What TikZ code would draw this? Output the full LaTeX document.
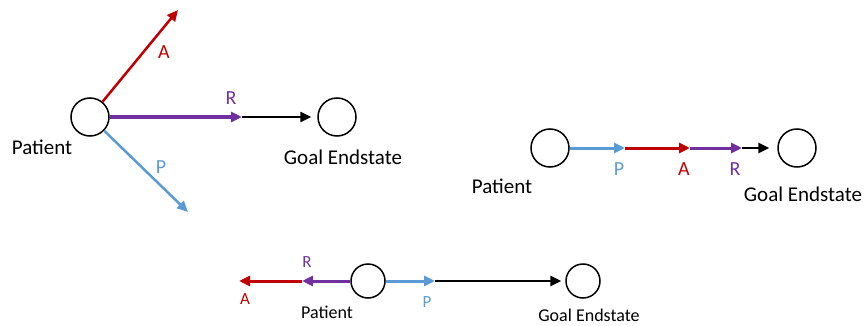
\documentclass[tikz,border=0pt]{standalone}
\usepackage{fontspec}
\setmainfont{Carlito}
\usetikzlibrary{arrows.meta}
\definecolor{argred}{RGB}{192,0,0}
\definecolor{argblue}{RGB}{91,155,213}
\definecolor{argpurple}{RGB}{112,48,160}

\begin{document}
\begin{tikzpicture}[x=1pt,y=-1pt]
                        \tikzstyle{state}=[draw,circle,line width=1.5pt,minimum size=38pt,inner sep=0pt]
                        \tikzstyle{smallstate}=[state,minimum size=34pt]
                        \tikzstyle{arg}=[line width=3pt,-{Triangle[length=11pt,width=10pt]}]
                        \tikzstyle{goalarrow}=[arg,line width=2.4pt,black]
                        \tikzstyle{bigname}=[inner sep=0pt,font=\fontsize{21}{25}\selectfont]
                        \tikzstyle{smallname}=[inner sep=0pt,font=\fontsize{18}{22}\selectfont]
                        \tikzstyle{biglbl}=[inner sep=0pt,font=\fontsize{20}{24}\selectfont]
                        \tikzstyle{smalllbl}=[inner sep=0pt,font=\fontsize{17}{20}\selectfont]
                        \useasboundingbox (0,0) rectangle (866,326);
                        % spread: three arguments leave the patient apart
                        \node[state] (pat1) at (90,117) {};
                        \node[state] (goal1) at (337,117) {};
                        \coordinate (a1) at (178,10);
                        \coordinate (r1) at (242,117);
                        \coordinate (p1) at (188,212);
                        \draw[arg,argred,line width=2.5pt] (pat1) -- (a1);
                        \draw[arg,argblue,line width=2.5pt] (pat1) -- (p1);
                        \draw[arg,argpurple,line width=3.5pt] (pat1) -- (r1);
                        \draw[goalarrow,shorten >=6pt] (r1) -- (goal1);
                        \node[biglbl,text=argred] (la1) at (164,52) {A};
                        \node[biglbl,text=argpurple] (lr1) at (231,98) {R};
                        \node[biglbl,text=argblue] (lp1) at (161,167) {P};
                        \node[bigname] (npat1) at (42,147) {Patient};
                        \node[bigname] (ngoal1) at (343,157) {Goal Endstate};
                        % chain: P then A then R on the way to the goal
                        \node[state] (pat2) at (550,148) {};
                        \node[state] (goal2) at (797,148) {};
                        \coordinate (p2) at (625,148);
                        \coordinate (a2) at (690,148);
                        \coordinate (r2) at (742,148);
                        \draw[arg,argblue] (pat2) -- (p2);
                        \draw[arg,argred] (p2) -- (a2);
                        \draw[arg,argpurple] (a2) -- (r2);
                        \draw[goalarrow,shorten >=8pt] (r2) -- (goal2);
                        \node[biglbl,text=argblue] (lp2) at (619,169) {P};
                        \node[biglbl,text=argred] (la2) at (684,169) {A};
                        \node[biglbl,text=argpurple] (lr2) at (735,169) {R};
                        \node[bigname] (npat2) at (502,186) {Patient};
                        \node[bigname] (ngoal2) at (803,194) {Goal Endstate};
                        % opposed: R and A point away, P toward the goal
                        \node[smallstate] (pat3) at (368,281) {};
                        \node[smallstate] (goal3) at (583,281) {};
                        \coordinate (r3) at (302,281);
                        \coordinate (a3) at (239,281);
                        \coordinate (p3) at (435,281);
                        \draw[arg,argred] (r3) -- (a3);
                        \draw[arg,argpurple] (pat3) -- (r3);
                        \draw[arg,argblue] (pat3) -- (p3);
                        \draw[goalarrow,shorten >=4pt] (p3) -- (goal3);
                        \node[smalllbl,text=argpurple] (lr3) at (307,262) {R};
                        \node[smalllbl,text=argred] (la3) at (245,299) {A};
                        \node[smalllbl,text=argblue] (lp3) at (427,302) {P};
                        \node[smallname] (npat3) at (327,312) {Patient};
                        \node[smallname] (ngoal3) at (589,315) {Goal Endstate};
                    \end{tikzpicture}
\end{document}
